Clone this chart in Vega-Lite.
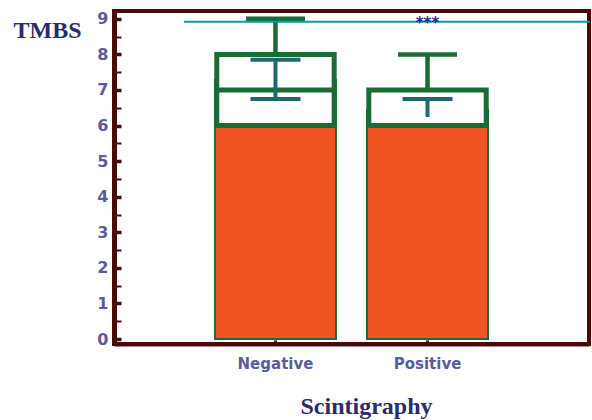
{
  "$schema": "https://vega.github.io/schema/vega-lite/v6.json",
  "width": 475,
  "height": 333,
  "autosize": {"type": "none"},
  "padding": {"left": 114, "top": 11, "right": 3, "bottom": 76},
  "background": "white",
  "config": {
    "view": {"stroke": "#4a0a0a", "strokeWidth": 4},
    "axis": {"grid": false}
  },
  "data": {
    "values": [
      {"Group": "Negative", "mean": 7.28, "q1": 6, "median": 7, "q3": 8, "max": 9, "ci_lo": 6.75, "ci_hi": 7.85, "lo_cap": true, "sig": ""},
      {"Group": "Positive", "mean": 6.44, "q1": 6, "median": 6, "q3": 7, "max": 8, "ci_lo": 6.24, "ci_hi": 6.75, "lo_cap": false, "sig": "***"}
    ]
  },
  "encoding": {
    "x": {
      "field": "Group",
      "type": "nominal",
      "sort": ["Negative", "Positive"],
      "scale": {"paddingInner": 0.204, "paddingOuter": 0.664},
      "axis": {
        "title": "Scintigraphy",
        "labelAngle": 0,
        "domainColor": "#4a0a0a",
        "domainWidth": 4,
        "tickColor": "#4a0a0a",
        "tickSize": -4,
        "tickWidth": 3,
        "labelPadding": 16,
        "labelFont": "DejaVu Sans",
        "labelFontWeight": "bold",
        "labelFontSize": 15,
        "labelColor": "#5b5b9d",
        "titleFont": "Liberation Serif",
        "titleFontWeight": "bold",
        "titleFontSize": 24,
        "titleColor": "#2b2b6e",
        "titleX": 252,
        "titleY": 69,
        "titleAlign": "center",
        "titleBaseline": "alphabetic"
      }
    }
  },
  "layer": [
    {
      "mark": {"type": "bar", "color": "#f05423", "stroke": "#1a6b35", "strokeWidth": 2},
      "encoding": {
        "y": {
          "field": "mean",
          "type": "quantitative",
          "scale": {"domain": [-0.14, 9.22], "nice": false, "zero": false},
          "axis": {
            "title": "TMBS",
            "values": [0, 0.5, 1, 1.5, 2, 2.5, 3, 3.5, 4, 4.5, 5, 5.5, 6, 6.5, 7, 7.5, 8, 8.5, 9],
            "tickCount": 40,
            "labelExpr": "datum.value % 1 === 0 ? format(datum.value, 'd') : ''",
            "labelOverlap": false,
            "domainColor": "#4a0a0a",
            "domainWidth": 5,
            "tickColor": "#4a0a0a",
            "tickSize": -7,
            "tickWidth": {"condition": {"test": "datum.value % 1 === 0", "value": 3.5}, "value": 2},
            "labelPadding": 13,
            "labelFont": "DejaVu Sans",
            "labelFontWeight": "bold",
            "labelFontSize": 16,
            "labelColor": "#5b5b9d",
            "labelBaseline": "middle",
            "titleFont": "Liberation Serif",
            "titleFontWeight": "bold",
            "titleFontSize": 24,
            "titleColor": "#2b2b6e",
            "titleAngle": 0,
            "titleAlign": "left",
            "titleBaseline": "alphabetic",
            "titleX": -101,
            "titleY": 26
          }
        },
        "y2": {"datum": 0}
      }
    },
    {
      "mark": {"type": "bar", "fill": "white", "stroke": "#1a6b35", "strokeWidth": 5, "width": {"band": 0.97}},
      "encoding": {
        "y": {"field": "q1", "type": "quantitative"},
        "y2": {"field": "q3"}
      }
    },
    {
      "mark": {"type": "tick", "color": "#1a6b35", "size": 117, "thickness": 5, "opacity": 1},
      "encoding": {"y": {"field": "median", "type": "quantitative"}}
    },
    {
      "mark": {"type": "rule", "color": "#1a6b35", "strokeWidth": 4.5},
      "encoding": {
        "y": {"field": "q3", "type": "quantitative"},
        "y2": {"field": "max"}
      }
    },
    {
      "mark": {"type": "tick", "color": "#1a6b35", "size": 59, "thickness": 4.5, "opacity": 1},
      "encoding": {"y": {"field": "max", "type": "quantitative"}}
    },
    {
      "mark": {"type": "rule", "color": "#1d6a6e", "strokeWidth": 4},
      "encoding": {
        "y": {"field": "ci_lo", "type": "quantitative"},
        "y2": {"field": "ci_hi"}
      }
    },
    {
      "mark": {"type": "tick", "color": "#1d6a6e", "size": 50, "thickness": 4, "opacity": 1},
      "encoding": {"y": {"field": "ci_hi", "type": "quantitative"}}
    },
    {
      "transform": [{"filter": "datum.lo_cap"}],
      "mark": {"type": "tick", "color": "#1d6a6e", "size": 50, "thickness": 4, "opacity": 1},
      "encoding": {"y": {"field": "ci_lo", "type": "quantitative"}}
    },
    {
      "data": {"values": [{"level": 8.92}]},
      "mark": {"type": "rule", "color": "#12999a", "strokeWidth": 2},
      "encoding": {
        "x": {"datum": "Negative", "bandPosition": -0.256},
        "x2": {"datum": "Positive", "bandPosition": 1.84},
        "y": {"field": "level", "type": "quantitative"}
      }
    },
    {
      "mark": {"type": "text", "color": "#2a2a8c", "font": "DejaVu Sans", "fontWeight": "bold", "fontSize": 15, "baseline": "middle", "dy": 4},
      "encoding": {
        "y": {"datum": 9},
        "text": {"field": "sig"}
      }
    }
  ]
}
